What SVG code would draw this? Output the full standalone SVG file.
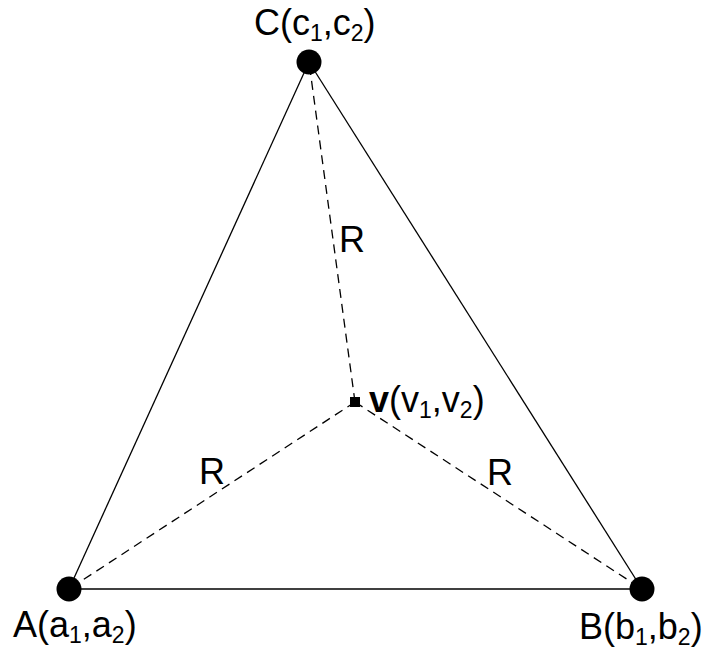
<svg xmlns="http://www.w3.org/2000/svg" width="702" height="649" viewBox="0 0 702 649">
<style>
.t{font-family:"Liberation Sans",Arial,sans-serif;font-size:36px;fill:#000}
.s{font-size:23px}
.solid{stroke:#000;stroke-width:1.3;fill:none}
.dash{stroke:#000;stroke-width:1.3;fill:none;stroke-dasharray:9 6}
.pt{fill:#000}
</style>
<rect width="702" height="649" fill="#fff"/>
<g id="connectors">
<line class="solid" x1="69" y1="589" x2="309" y2="62"/>
<line class="solid" x1="309" y1="62" x2="642" y2="589"/>
<line class="solid" x1="69" y1="589" x2="642" y2="589"/>
<line class="dash" x1="355" y1="402" x2="309" y2="62"/>
<line class="dash" x1="355" y1="402" x2="69" y2="589"/>
<line class="dash" x1="355" y1="402" x2="642" y2="589"/>
</g>
<g id="nodeC">
<circle class="pt" cx="309" cy="62" r="12.5"/>
<text class="t" x="254" y="35">C(c<tspan class="s" dy="6">1</tspan><tspan dy="-6">,c</tspan><tspan class="s" dy="6">2</tspan><tspan dy="-6">)</tspan></text>
</g>
<g id="nodeA">
<circle class="pt" cx="69" cy="589" r="12.5"/>
<text class="t" x="13" y="637">A(a<tspan class="s" dy="6">1</tspan><tspan dy="-6">,a</tspan><tspan class="s" dy="6">2</tspan><tspan dy="-6">)</tspan></text>
</g>
<g id="nodeB">
<circle class="pt" cx="642" cy="589" r="12.5"/>
<text class="t" x="579" y="639">B(b<tspan class="s" dy="6">1</tspan><tspan dy="-6">,b</tspan><tspan class="s" dy="6">2</tspan><tspan dy="-6">)</tspan></text>
</g>
<g id="nodeV">
<rect class="pt" x="350" y="397" width="10" height="10"/>
<text class="t" x="369" y="412"><tspan font-weight="bold">v</tspan>(v<tspan class="s" dy="6">1</tspan><tspan dy="-6">,v</tspan><tspan class="s" dy="6">2</tspan><tspan dy="-6">)</tspan></text>
</g>
<g id="labels">
<text class="t" x="339" y="252">R</text>
<text class="t" x="199" y="484">R</text>
<text class="t" x="487" y="485">R</text>
</g>
</svg>
